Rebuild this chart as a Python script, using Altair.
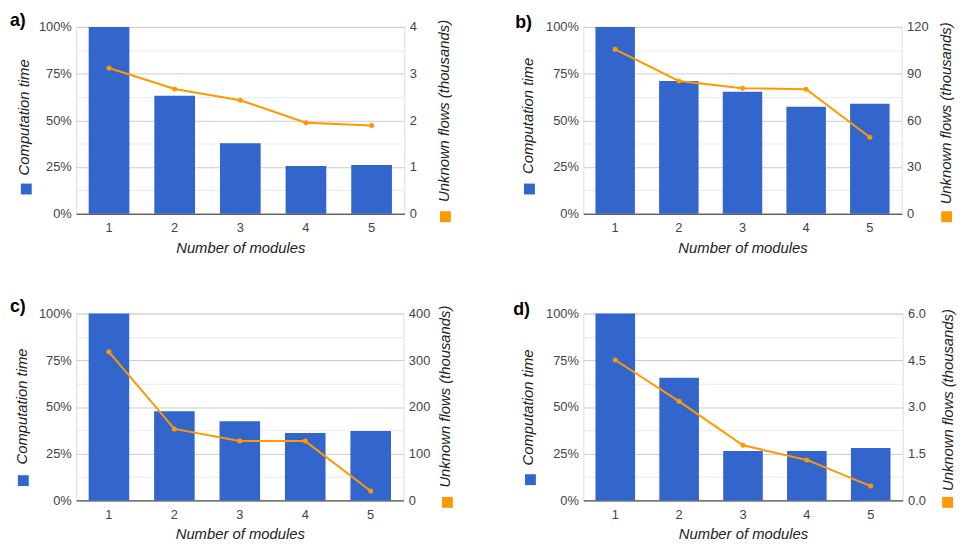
import altair as alt
import pandas as pd

modules = [1, 2, 3, 4, 5]

comp_a = [100, 63.1, 37.7, 25.6, 26.1]
flows_a = [3.12, 2.67, 2.43, 1.95, 1.89]

comp_b = [100, 71.1, 65.3, 57.3, 58.9]
flows_b = [105.6, 85.3, 80.6, 80.0, 49.1]

comp_c = [100, 47.7, 42.4, 36.1, 37.1]
flows_c = [318, 153, 127, 127, 20]

comp_d = [100, 65.6, 26.5, 26.5, 28.1]
flows_d = [4.51, 3.18, 1.77, 1.30, 0.46]

right_ticks_a = [0, 1, 2, 3, 4]
right_ticks_b = [0, 30, 60, 90, 120]
right_ticks_c = [0, 100, 200, 300, 400]
right_ticks_d = [0, 1.5, 3.0, 4.5, 6.0]

left_ticks = [0, 12.5, 25, 37.5, 50, 62.5, 75, 87.5, 100]

FONT = "Liberation Sans"
BLUE = "#3366cc"
ORANGE = "#ff9900"
H = 189


def panel(label, comp, flows, rticks, rfmt, width, lt, rt, lb, lo, label_dx, label_dy):
    df = pd.DataFrame({
        "m": modules,
        "comp": comp,
        "flows": flows,
        "k1": "Computation time",
        "k2": "Unknown flows",
    })
    base = alt.Chart(df)
    x_enc = alt.X(
        "m:O",
        scale=alt.Scale(paddingInner=0.38, paddingOuter=0.19),
        axis=alt.Axis(
            title="Number of modules", labelAngle=0, ticks=False, grid=False,
            domainColor="#333333", domainWidth=1, labelPadding=8,
            labelFont=FONT, labelFontSize=13, labelColor="#444444",
            titleFont=FONT, titleFontSize=15, titleFontStyle="italic",
            titleFontWeight="normal", titleColor="#222222", titlePadding=6,
        ),
    )
    bars = base.mark_bar().encode(
        x=x_enc,
        y=alt.Y(
            "comp:Q",
            scale=alt.Scale(domain=[0, 100], nice=False),
            axis=alt.Axis(
                values=left_ticks,
                labelExpr="datum.value % 25 === 0 ? datum.value + '%' : ''",
                gridColor={"condition": {"test": "datum.value % 25 === 0", "value": "#cccccc"},
                           "value": "#ebebeb"},
                domain=False, ticks=False, labelPadding=5,
                labelFont=FONT, labelFontSize=13, labelColor="#444444",
                title="Computation time", titleFont=FONT, titleFontSize=15,
                titleFontStyle="italic", titleFontWeight="normal", titleColor="#222222",
                titleAngle=-90, titleX=lt[0], titleY=lt[1], titleAlign="center",
                titleBaseline="alphabetic",
            ),
        ),
        color=alt.Color(
            "k1:N",
            scale=alt.Scale(domain=["Computation time"], range=[BLUE]),
            legend=alt.Legend(
                orient="none", legendX=lb[0], legendY=lb[1], title=None,
                symbolType="square", symbolSize=121, symbolStrokeWidth=0,
                labelExpr="''", padding=0,
            ),
        ),
    )
    y_right = alt.Y(
        "flows:Q",
        scale=alt.Scale(domain=[0, rticks[-1]], nice=False),
        axis=alt.Axis(
            orient="right", values=rticks, format=rfmt, grid=False, domain=False,
            ticks=False, labelPadding=5, labelFont=FONT, labelFontSize=13,
            labelColor="#444444",
            title="Unknown flows (thousands)", titleFont=FONT, titleFontSize=15,
            titleFontStyle="italic", titleFontWeight="normal", titleColor="#222222",
            titleAngle=-90, titleX=rt[0], titleY=rt[1], titleAlign="center",
            titleBaseline="alphabetic",
        ),
    )
    line = base.mark_line(color=ORANGE, strokeWidth=2).encode(x=x_enc, y=y_right)
    pts = base.mark_circle(size=26, opacity=1).encode(
        x=x_enc,
        y=y_right,
        color=alt.Color(
            "k2:N",
            scale=alt.Scale(domain=["Unknown flows"], range=[ORANGE]),
            legend=alt.Legend(
                orient="none", legendX=lo[0], legendY=lo[1], title=None,
                symbolType="square", symbolSize=121, symbolStrokeWidth=0,
                symbolOpacity=1, labelExpr="''", padding=0,
            ),
        ),
    )
    flows_layer = alt.layer(line, pts)
    return alt.layer(bars, flows_layer).resolve_scale(
        y="independent", color="independent"
    ).properties(
        width=width,
        height=H,
        title=alt.TitleParams(
            text=label, anchor="start", frame="group", dx=label_dx, dy=label_dy,
            offset=0, baseline="alphabetic",
            font=FONT, fontSize=18, fontWeight="bold", color="#000000",
        ),
    )


pa = panel("a)", comp_a, flows_a, right_ticks_a, "d", 332, (-48, 91), (45, 84.5), (-56, 158.5), (368, 186.5), -67, 25)
pb = panel("b)", comp_b, flows_b, right_ticks_b, "d", 322, (-51, 89.5), (49, 87), (-60, 158.5), (362, 186.5), -69, 25)
pc = panel("c)", comp_c, flows_c, right_ticks_c, "d", 331, (-50, 93.5), (47, 83.5), (-59, 163.5), (370, 185.5), -67, 25)
pd_ = panel("d)", comp_d, flows_d, right_ticks_d, ".1f", 323, (-51.5, 94.5), (50.5, 87), (-59, 162.5), (363, 185.5), -71, 25)

chart = alt.concat(
    pa, pb, pc, pd_, columns=2, spacing={"row": 101, "column": 181}, bounds="flush"
).resolve_scale(
    color="independent"
).properties(
    padding={"left": 1, "top": 0, "right": 0, "bottom": 0}
).configure_view(stroke=None).configure(font=FONT)

chart.save("out.html", embed_options={"renderer": "svg", "actions": False})
